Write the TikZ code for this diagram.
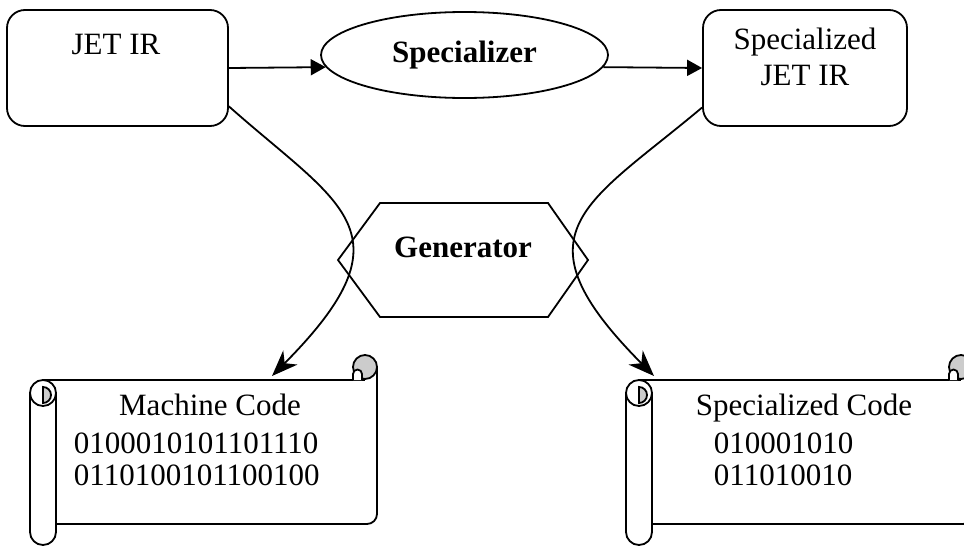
\documentclass[tikz,border=0pt]{standalone}
\usepackage{fontspec}
\setmainfont{Liberation Serif}
\usetikzlibrary{arrows.meta,shapes.geometric}
\begin{document}
\begin{tikzpicture}[x=1pt,y=-1pt,line width=1.8pt,
  every node/.style={inner sep=0pt,font=\fontsize{31}{36}\selectfont},
  box/.style={draw,rounded corners=18pt,minimum height=116pt},
  flow/.style={-{Triangle[length=15pt,width=16pt]}},
  gencurve/.style={-{Stealth[length=26pt,width=20pt,inset=8pt]}},
  rollfill/.style={fill=gray!40},
  codetext/.style={align=left,anchor=north west,font=\fontsize{31}{32}\selectfont}]
\useasboundingbox (0,0) rectangle (964,546);
\clip (0,0) rectangle (964,546);

% top row
\node[box,minimum width=221pt] (jet) at (117.5,68) {};
\node[anchor=base] (jetlbl) at (116,54) {JET IR};
\node[box,minimum width=204pt] (sjet) at (805,68) {};
\node[anchor=north,align=center] (sjetlbl) at (805,27) {Specialized\\JET IR};
\node[draw,ellipse,minimum width=287pt,minimum height=86pt,font=\fontsize{31}{36}\selectfont\bfseries] (spec) at (464.5,55) {Specializer};

\draw[flow] (jet.east) -- (spec.185);
\draw[flow] (spec.-5) -- (sjet.west);

% generator hexagon
\draw (338,260) -- (380,203) -- (548,203) -- (588,260) -- (548,317) -- (380,317) -- cycle;
\node[anchor=base,font=\fontsize{31}{36}\selectfont\bfseries] (gen) at (463,257) {Generator};

% curved connectors
\coordinate (mc) at (272,376);
\coordinate (sc) at (654,376);
\draw[gencurve] (jet.-19) .. controls (340,205) and (415,232) .. (mc);
\draw[gencurve] (sjet.201) .. controls (586,205) and (511,232) .. (sc);

% scrolls
\foreach \dx in {0,596} {
\begin{scope}[xshift=\dx pt]
  \draw (43,380) -- (365,380);
  \draw (377,367) -- (377,514) arc[start angle=0,end angle=90,radius=10] -- (56,524);
  \draw (56,393) -- (56,532) arc[start angle=0,end angle=180,radius=13] -- (30,393);
  \draw (43,393) circle[radius=13];
  \filldraw[rollfill] (43,387) arc[start angle=-90,end angle=90,radius=8] -- cycle;
  \filldraw[rollfill] (365,367) circle[radius=12];
  \filldraw[fill=white] (353,380) -- (353,374) arc[start angle=180,end angle=360,radius=4.5] -- (362,380);
\end{scope}
}

\node[anchor=base] (mctitle) at (210,415) {Machine Code};
\node[codetext] (mccode) at (73,432) {0100010101101110\\0110100101100100};
\node[anchor=base] (sctitle) at (804,415) {Specialized Code};
\node[codetext] (sccode) at (713,432) {010001010\\011010010};
\end{tikzpicture}
\end{document}
